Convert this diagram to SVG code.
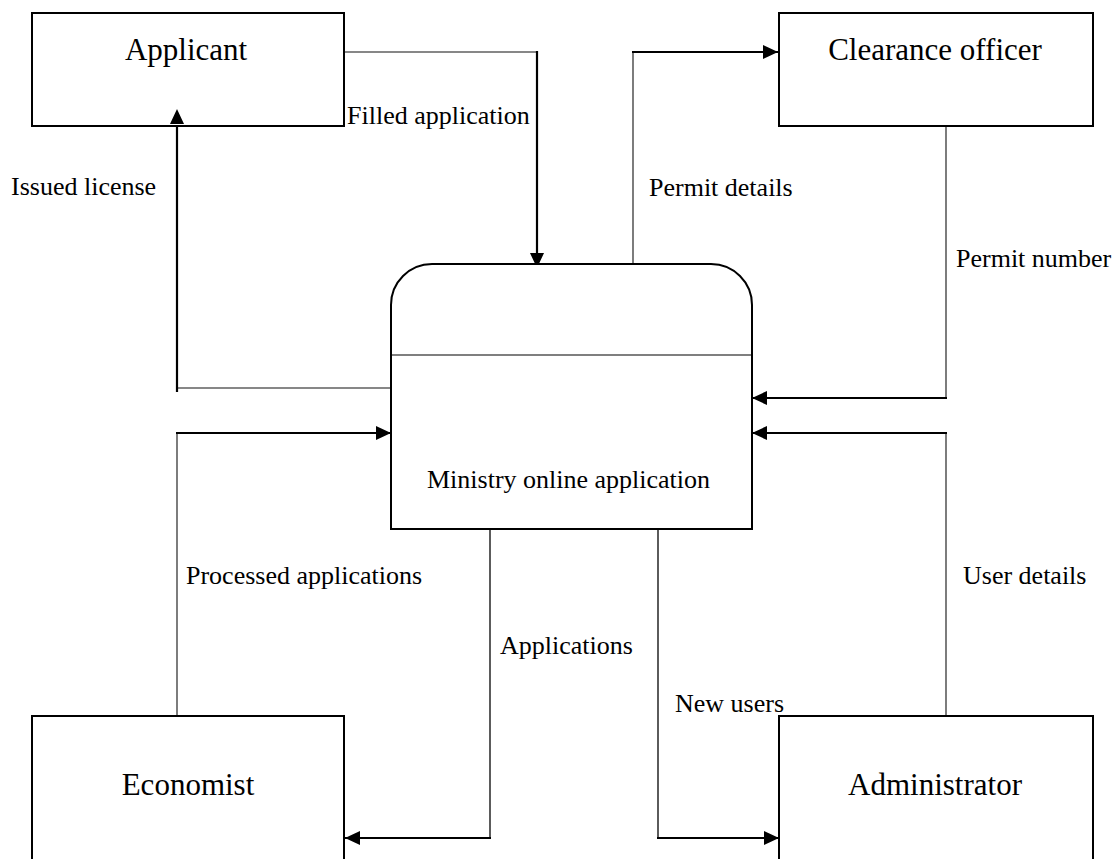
<svg xmlns="http://www.w3.org/2000/svg" width="1117" height="859" viewBox="0 0 1117 859">
<style>
.box{fill:#fff;stroke:#000;stroke-width:2}
.node{font-family:"Liberation Serif","Times New Roman",serif;font-size:31px;fill:#000;text-anchor:middle}
.lbl{font-family:"Liberation Serif","Times New Roman",serif;font-size:26px;fill:#000}
.thin{fill:none;stroke:#111;stroke-width:1.1}
.mid{fill:none;stroke:#333;stroke-width:1.6}
.thick{fill:none;stroke:#000;stroke-width:2.2}
</style>
<defs>
<marker id="arr" viewBox="0 0 15 14" refX="15" refY="7" markerWidth="15" markerHeight="14" markerUnits="userSpaceOnUse" orient="auto">
<path d="M0,0 L15,7 L0,14 Z" fill="#000"/>
</marker>
</defs>
<rect width="1117" height="859" fill="#fff"/>
<g id="connectors">
<path class="thin" d="M344,52 H537"/>
<path class="thick" d="M537,51 V268" marker-end="url(#arr)"/>
<path class="thin" d="M391,388 H177"/>
<path class="thick" d="M177,392 V109" marker-end="url(#arr)"/>
<path class="thin" d="M633,268 V52"/>
<path class="thick" d="M632,52 H778" marker-end="url(#arr)"/>
<path class="thin" d="M946,114 V398"/>
<path class="thick" d="M947,398 H752" marker-end="url(#arr)"/>
<path class="thin" d="M177,716 V433"/>
<path class="thick" d="M176,433 H391" marker-end="url(#arr)"/>
<path class="mid" d="M490,529 V838"/>
<path class="thick" d="M491,838 H345" marker-end="url(#arr)"/>
<path class="mid" d="M658,529 V838"/>
<path class="thick" d="M657,838 H779" marker-end="url(#arr)"/>
<path class="thin" d="M946,716 V433"/>
<path class="thick" d="M947,433 H752" marker-end="url(#arr)"/>
<text class="lbl" x="347" y="124">Filled application</text>
<text class="lbl" x="11" y="195">Issued license</text>
<text class="lbl" x="649" y="196">Permit details</text>
<text class="lbl" x="956" y="267">Permit number</text>
<text class="lbl" x="186" y="584">Processed applications</text>
<text class="lbl" x="500" y="654">Applications</text>
<text class="lbl" x="675" y="712">New users</text>
<text class="lbl" x="963" y="584">User details</text>
</g>
<g id="applicant">
<rect class="box" x="32" y="13" width="312" height="113"/>
<text class="node" x="186" y="60">Applicant</text>
</g>
<g id="clearance-officer">
<rect class="box" x="779" y="13" width="314" height="113"/>
<text class="node" x="935" y="60">Clearance officer</text>
</g>
<g id="process">
<path class="box" d="M391,529 V305 A41,41 0 0 1 432,264 H711 A41,41 0 0 1 752,305 V529 Z"/>
<line x1="391" y1="355" x2="752" y2="355" stroke="#000" stroke-width="1.2"/>
<text class="lbl" x="427" y="488">Ministry online application</text>
</g>
<g id="economist">
<rect class="box" x="32" y="716" width="312" height="160"/>
<text class="node" x="188" y="795">Economist</text>
</g>
<g id="administrator">
<rect class="box" x="779" y="716" width="314" height="160"/>
<text class="node" x="935" y="795">Administrator</text>
</g>
<g id="arrowheads-over">
<path d="M170,124 L177,109 L184,124 Z" fill="#000"/>
</g>
</svg>
